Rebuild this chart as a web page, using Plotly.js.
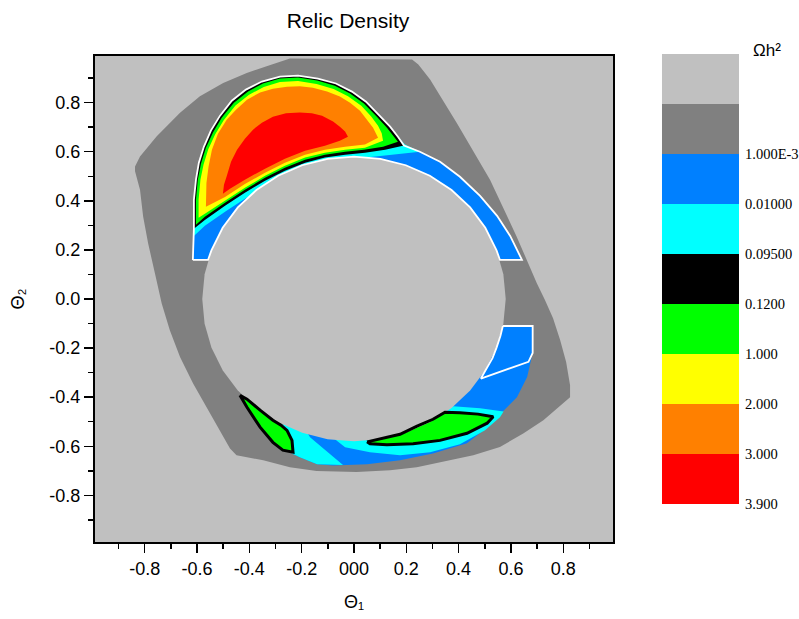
<!DOCTYPE html>
<html><head><meta charset="utf-8">
<script src="https://cdn.plot.ly/plotly-3.0.1.min.js"></script>
<style>html,body{margin:0;padding:0;background:#fff;}#chart{width:799px;height:619px;}</style>
</head><body><div id="chart"></div>
<script>
// ---------- axis ticks ----------
const xTickVals = [-0.8,-0.6,-0.4,-0.2,0,0.2,0.4,0.6,0.8];
const xTickText = ['-0.8','-0.6','-0.4','-0.2','000','0.2','0.4','0.6','0.8'];
const yTickVals = [-0.8,-0.6,-0.4,-0.2,0,0.2,0.4,0.6,0.8];
const yTickText = ['-0.8','-0.6','-0.4','-0.2','0.0','0.2','0.4','0.6','0.8'];

// ---------- colour levels (bottom to top of the scale) ----------
const levelColors = ['#FF0000','#FF8000','#FFFF00','#00FF00','#000000','#00FFFF','#0080FF','#808080','#C0C0C0'];
const levelLabels = ['3.900','3.000','2.000','1.000','0.1200','0.09500','0.01000','1.000E-3'];

// ---------- region boundaries (Θ1, Θ2) ----------
const darkX = [0.222,-0.245,-0.334,-0.410,-0.500,-0.589,-0.665,-0.754,-0.818,-0.837,-0.837,-0.818,-0.806,-0.787,-0.761,-0.735,-0.704,-0.665,-0.615,-0.563,-0.512,-0.474,-0.449,-0.347,-0.245,-0.143,0.010,0.138,0.240,0.341,0.456,0.558,0.647,0.724,0.769,0.826,0.826,0.811,0.788,0.761,0.730,0.699,0.622,0.520,0.393,0.291,0.246];
const darkY = [0.976,0.980,0.948,0.921,0.880,0.826,0.759,0.663,0.581,0.540,0.520,0.445,0.336,0.227,0.105,-0.018,-0.127,-0.236,-0.344,-0.440,-0.535,-0.609,-0.637,-0.657,-0.685,-0.701,-0.705,-0.698,-0.685,-0.664,-0.637,-0.603,-0.548,-0.494,-0.453,-0.400,-0.351,-0.257,-0.167,-0.078,-0.004,0.064,0.254,0.486,0.717,0.894,0.955];

const circX = [0.580,0.571,0.545,0.502,0.444,0.373,0.290,0.198,0.101,0.000,-0.101,-0.198,-0.290,-0.373,-0.444,-0.502,-0.545,-0.571,-0.580,-0.571,-0.545,-0.502,-0.444,-0.373,-0.290,-0.198,-0.101,0.000,0.101,0.198,0.290,0.373,0.444,0.502,0.545,0.571];
const circY = [0.000,0.101,0.198,0.290,0.373,0.444,0.502,0.545,0.571,0.580,0.571,0.545,0.502,0.444,0.373,0.290,0.198,0.101,0.000,-0.101,-0.198,-0.290,-0.373,-0.444,-0.502,-0.545,-0.571,-0.580,-0.571,-0.545,-0.502,-0.444,-0.373,-0.290,-0.198,-0.101];

const upperX = [-0.616,-0.612,-0.612,-0.604,-0.593,-0.574,-0.547,-0.512,-0.467,-0.413,-0.352,-0.283,-0.214,-0.138,-0.069,-0.008,0.046,0.092,0.138,0.168,0.191,0.252,0.329,0.405,0.482,0.547,0.597,0.627,0.642,0.558,0.545,0.502,0.444,0.373,0.290,0.198,0.101,0.000,-0.101,-0.198,-0.290,-0.373,-0.444,-0.502,-0.545,-0.558,-0.616];
const upperY = [0.159,0.286,0.404,0.486,0.555,0.620,0.686,0.747,0.808,0.853,0.886,0.906,0.910,0.898,0.878,0.845,0.804,0.755,0.702,0.661,0.625,0.600,0.559,0.498,0.420,0.339,0.257,0.192,0.159,0.159,0.198,0.290,0.373,0.444,0.502,0.545,0.571,0.580,0.571,0.545,0.502,0.444,0.373,0.290,0.198,0.159,0.159];

const cyanUpX = [-0.612,-0.570,-0.493,-0.417,-0.340,-0.264,-0.187,-0.111,-0.034,0.042,0.119,0.195,0.252,0.195,0.168,-0.207,-0.612];
const cyanUpY = [0.257,0.298,0.355,0.408,0.457,0.498,0.531,0.555,0.567,0.576,0.584,0.592,0.600,0.629,0.661,0.731,0.404];

const blackX = [-0.612,-0.612,-0.604,-0.593,-0.574,-0.547,-0.512,-0.467,-0.413,-0.352,-0.283,-0.214,-0.138,-0.069,-0.008,0.046,0.092,0.138,0.168,0.191,0.119,0.042,-0.034,-0.111,-0.187,-0.264,-0.340,-0.417,-0.493,-0.570];
const blackY = [0.286,0.404,0.486,0.555,0.620,0.686,0.747,0.808,0.853,0.886,0.906,0.910,0.898,0.878,0.845,0.804,0.755,0.702,0.661,0.625,0.608,0.596,0.588,0.576,0.555,0.522,0.482,0.433,0.380,0.322];

const greenX = [-0.604,-0.604,-0.597,-0.585,-0.566,-0.539,-0.505,-0.459,-0.405,-0.348,-0.283,-0.214,-0.141,-0.073,-0.015,0.038,0.084,0.126,0.153,0.168,0.111,0.038,-0.034,-0.111,-0.187,-0.264,-0.340,-0.417,-0.493,-0.570];
const greenY = [0.302,0.404,0.486,0.551,0.616,0.678,0.739,0.800,0.845,0.878,0.898,0.902,0.890,0.869,0.837,0.796,0.747,0.698,0.661,0.641,0.620,0.608,0.600,0.588,0.567,0.535,0.494,0.445,0.392,0.335];

const yellowX = [-0.594,-0.594,-0.587,-0.575,-0.557,-0.531,-0.498,-0.453,-0.401,-0.345,-0.283,-0.214,-0.143,-0.078,-0.023,0.028,0.065,0.092,0.106,0.111,0.042,-0.034,-0.111,-0.187,-0.264,-0.340,-0.417,-0.493,-0.570];
const yellowY = [0.331,0.404,0.486,0.548,0.610,0.670,0.728,0.788,0.832,0.864,0.884,0.888,0.876,0.856,0.826,0.787,0.745,0.706,0.675,0.645,0.616,0.608,0.596,0.576,0.543,0.502,0.453,0.400,0.347];

const orangeX = [-0.566,-0.566,-0.564,-0.556,-0.543,-0.520,-0.486,-0.451,-0.409,-0.359,-0.310,-0.256,-0.207,-0.157,-0.103,-0.054,-0.015,0.023,0.050,0.073,0.092,0.042,-0.034,-0.111,-0.187,-0.264,-0.340,-0.417,-0.493];
const orangeY = [0.376,0.424,0.473,0.539,0.608,0.673,0.731,0.771,0.812,0.841,0.857,0.865,0.867,0.861,0.845,0.825,0.800,0.767,0.731,0.698,0.657,0.629,0.620,0.608,0.588,0.555,0.514,0.469,0.416];

const redX = [-0.501,-0.497,-0.486,-0.470,-0.447,-0.417,-0.386,-0.352,-0.310,-0.260,-0.207,-0.161,-0.122,-0.080,-0.054,-0.034,-0.023,-0.054,-0.111,-0.187,-0.264,-0.340,-0.417,-0.474];
const redY = [0.429,0.465,0.502,0.559,0.608,0.653,0.690,0.718,0.743,0.757,0.760,0.757,0.747,0.723,0.702,0.682,0.661,0.645,0.624,0.604,0.571,0.531,0.486,0.449];

const lowBlueX = [0.683,0.683,0.662,0.623,0.570,0.520,0.432,0.302,0.176,0.050,-0.080,-0.141,-0.207,-0.237,-0.260,-0.275,-0.200,0.000,0.300,0.450,0.500];
const lowBlueY = [-0.110,-0.220,-0.318,-0.400,-0.457,-0.514,-0.588,-0.629,-0.657,-0.673,-0.678,-0.673,-0.645,-0.629,-0.576,-0.527,-0.450,-0.500,-0.400,-0.200,-0.110];

const cyanLeftX = [-0.283,-0.260,-0.237,-0.207,-0.141,-0.042,-0.168,-0.207];
const cyanLeftY = [-0.514,-0.576,-0.629,-0.645,-0.673,-0.676,-0.563,-0.494];

const cyanLowX = [-0.092,-0.034,0.061,0.176,0.291,0.405,0.501,0.558,0.572,0.482,0.379,0.291,0.099];
const cyanLowY = [-0.555,-0.604,-0.624,-0.637,-0.624,-0.592,-0.535,-0.482,-0.458,-0.445,-0.437,-0.445,-0.535];

const blobLeftX = [-0.436,-0.409,-0.359,-0.310,-0.272,-0.233,-0.237,-0.256,-0.279,-0.310,-0.359,-0.409];
const blobLeftY = [-0.392,-0.441,-0.522,-0.584,-0.616,-0.624,-0.576,-0.535,-0.514,-0.494,-0.453,-0.408];

const blobRightX = [0.050,0.099,0.176,0.241,0.302,0.348,0.405,0.474,0.532,0.509,0.432,0.329,0.226,0.126,0.061];
const blobRightY = [-0.582,-0.569,-0.551,-0.518,-0.490,-0.461,-0.463,-0.469,-0.480,-0.506,-0.547,-0.576,-0.590,-0.594,-0.590];

const boxX = [0.569,0.683,0.683,0.667,0.485,0.502,0.530,0.545,0.560,0.569];
const boxY = [-0.110,-0.110,-0.220,-0.256,-0.324,-0.290,-0.240,-0.198,-0.150,-0.110];

// ---------- helpers ----------
function poly(x, y, color) {
  return {type:'scatter', mode:'lines', x:x, y:y, fill:'toself', fillcolor:color,
          line:{width:0, color:color}, hoverinfo:'skip', showlegend:false};
}
function outline(x, y, color, w) {
  return {type:'scatter', mode:'lines', x:x.concat([x[0]]), y:y.concat([y[0]]),
          line:{color:color, width:w}, hoverinfo:'skip', showlegend:false};
}

const traces = [
  poly(darkX, darkY, levelColors[7]),
  poly(upperX, upperY, levelColors[6]),
  poly(lowBlueX, lowBlueY, levelColors[6]),
  poly(cyanUpX, cyanUpY, levelColors[5]),
  poly(cyanLeftX, cyanLeftY, levelColors[5]),
  poly(cyanLowX, cyanLowY, levelColors[5]),
  poly(blackX, blackY, levelColors[4]),
  poly(greenX, greenY, levelColors[3]),
  poly(yellowX, yellowY, levelColors[2]),
  poly(orangeX, orangeY, levelColors[1]),
  poly(redX, redY, levelColors[0]),
  poly(blobLeftX, blobLeftY, levelColors[3]),
  poly(blobRightX, blobRightY, levelColors[3]),
  poly(circX, circY, levelColors[8]),
  outline(upperX, upperY, '#FFFFFF', 1.8),
  outline(boxX, boxY, '#FFFFFF', 1.8),
  outline(blobLeftX, blobLeftY, '#000000', 3),
  outline(blobRightX, blobRightY, '#000000', 3),
  // colour scale blocks
  {type:'bar', x:levelColors.map(() => 0), y:levelColors.map(() => 1),
   base:levelColors.map((c, i) => i), width:1,
   marker:{color:levelColors, line:{width:0}},
   xaxis:'x2', yaxis:'y2', hoverinfo:'skip', showlegend:false}
];

const tickFont = {family:'Arial, Liberation Sans, sans-serif', size:18, color:'#000'};
const layout = {
  width:799, height:619,
  margin:{l:95, r:60, t:54, b:77, pad:0},
  paper_bgcolor:'#FFFFFF', plot_bgcolor:'#C0C0C0',
  barmode:'overlay', showlegend:false,
  title:{text:'Relic Density', font:{family:'Arial, Liberation Sans, sans-serif', size:21, color:'#000'},
         xref:'container', yref:'container', x:0.4355, y:0.966, xanchor:'center', yanchor:'middle'},
  xaxis:{domain:[0, 0.8043], range:[-0.99, 0.99], showgrid:false, zeroline:false,
         showline:true, mirror:true, linecolor:'#000', linewidth:2,
         ticks:'outside', ticklen:9, tickwidth:1.5, tickcolor:'#000',
         tickmode:'array', tickvals:xTickVals, ticktext:xTickText, tickfont:tickFont,
         minor:{dtick:0.1, tick0:0, ticks:'outside', ticklen:5, tickwidth:1.5, tickcolor:'#000', showgrid:false},
         title:{text:'Θ₁', font:{family:'Arial, Liberation Sans, DejaVu Sans, sans-serif', size:18, color:'#000'}, standoff:18}},
  yaxis:{domain:[0, 0.9959], range:[-0.99, 0.99], showgrid:false, zeroline:false,
         showline:true, mirror:true, linecolor:'#000', linewidth:2,
         ticks:'outside', ticklen:9, tickwidth:1.5, tickcolor:'#000',
         tickmode:'array', tickvals:yTickVals, ticktext:yTickText, tickfont:tickFont,
         minor:{dtick:0.1, tick0:0, ticks:'outside', ticklen:5, tickwidth:1.5, tickcolor:'#000', showgrid:false},
         title:{text:'Θ₂', font:{family:'Arial, Liberation Sans, DejaVu Sans, sans-serif', size:18, color:'#000'}, standoff:20}},
  xaxis2:{domain:[0.8804, 1], range:[-0.5, 0.5], anchor:'y2', visible:false, fixedrange:true},
  yaxis2:{domain:[0.0779, 1], range:[0, 9], anchor:'x2', side:'right', showgrid:false, zeroline:false,
          showline:false, ticks:'', tickmode:'array', tickvals:levelLabels.map((l, i) => i),
          ticktext:levelLabels, ticklabelstandoff:5,
          tickfont:{family:'Times New Roman, Liberation Serif, serif', size:14.5, color:'#000'}},
  annotations:[{text:'Ωh²', xref:'paper', yref:'paper', x:1.0435, y:1.008,
                xanchor:'center', yanchor:'middle', showarrow:false,
                font:{family:'Arial, Liberation Sans, sans-serif', size:17, color:'#000'}}]
};

Plotly.newPlot('chart', traces, layout, {displayModeBar:false, staticPlot:true});
</script>
</body></html>
